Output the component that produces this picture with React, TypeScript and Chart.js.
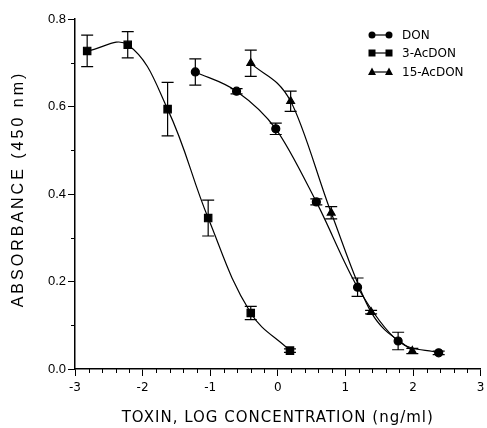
import React, { useEffect, useRef } from 'react';
import { Chart, registerables } from 'chart.js';

Chart.register(...registerables);

// DON (circles)
const donX = [-1.22, -0.61, -0.03, 0.57, 1.18, 1.78, 2.38];
const donY = [0.679, 0.635, 0.549, 0.382, 0.187, 0.064, 0.037];
const donErr = [0.03, 0.006, 0.013, 0.007, 0.021, 0.02, 0.004];

// 3-AcDON (squares)
const ac3X = [-2.82, -2.22, -1.63, -1.03, -0.4, 0.18];
const ac3Y = [0.727, 0.741, 0.594, 0.345, 0.128, 0.042];
const ac3Err = [0.036, 0.03, 0.061, 0.041, 0.015, 0.004];

// 15-AcDON (triangles)
const ac15X = [-0.4, 0.19, 0.79, 1.38, 1.99];
const ac15Y = [0.699, 0.612, 0.357, 0.13, 0.041];
const ac15Err = [0.03, 0.023, 0.014, 0.004, 0.006];

const seriesNames = ['DON', '3-AcDON', '15-AcDON'];
const xTicks = [-3, -2, -1, 0, 1, 2, 3];
const yTicks = [0, 0.2, 0.4, 0.6, 0.8];
const xTitle = 'TOXIN, LOG CONCENTRATION (ng/ml)';
const yTitle = 'ABSORBANCE (450 nm)';

const toPts = (xs: number[], ys: number[]) => xs.map((x, i) => ({ x, y: ys[i] }));

function marker(ctx: CanvasRenderingContext2D, style: string, x: number, y: number) {
  ctx.beginPath();
  if (style === 'circle') {
    ctx.arc(x, y, 3.5, 0, Math.PI * 2);
  } else if (style === 'rect') {
    ctx.rect(x - 3.5, y - 3.5, 7, 7);
  } else {
    ctx.moveTo(x, y - 4.5);
    ctx.lineTo(x + 4, y + 3);
    ctx.lineTo(x - 4, y + 3);
    ctx.closePath();
  }
  ctx.fill();
}

const errorBars = {
  id: 'errorBars',
  afterDatasetsDraw(chart: any) {
    const ctx = chart.ctx;
    const xs = chart.scales.x;
    const ys = chart.scales.y;
    ctx.save();
    ctx.strokeStyle = '#000';
    ctx.lineWidth = 1.2;
    chart.data.datasets.forEach((ds: any) => {
      const errs: number[] = ds.errs || [];
      ds.data.forEach((p: any, i: number) => {
        const e = errs[i];
        if (!e) return;
        const px = xs.getPixelForValue(p.x);
        const top = ys.getPixelForValue(p.y + e);
        const bot = ys.getPixelForValue(p.y - e);
        ctx.beginPath();
        ctx.moveTo(px, top);
        ctx.lineTo(px, bot);
        ctx.moveTo(px - 6, top);
        ctx.lineTo(px + 6, top);
        ctx.moveTo(px - 6, bot);
        ctx.lineTo(px + 6, bot);
        ctx.stroke();
      });
    });
    ctx.restore();
  },
};

const minorTicks = {
  id: 'minorTicks',
  afterDraw(chart: any) {
    const ctx = chart.ctx;
    const xs = chart.scales.x;
    const ys = chart.scales.y;
    const area = chart.chartArea;
    ctx.save();
    ctx.strokeStyle = '#000';
    ctx.lineWidth = 1;
    ctx.beginPath();
    for (let k = -30; k <= 30; k += 2) {
      if (k % 10 === 0) continue;
      const px = Math.round(xs.getPixelForValue(k / 10)) + 0.5;
      ctx.moveTo(px, area.bottom);
      ctx.lineTo(px, area.bottom + 4);
    }
    for (let k = 1; k < 8; k += 2) {
      const py = Math.round(ys.getPixelForValue(k / 10)) + 0.5;
      ctx.moveTo(area.left, py);
      ctx.lineTo(area.left - 4, py);
    }
    ctx.stroke();
    ctx.restore();
  },
};

const axisTitles = {
  id: 'axisTitles',
  afterDraw(chart: any) {
    const ctx = chart.ctx as any;
    const area = chart.chartArea;
    ctx.save();
    ctx.fillStyle = '#000';
    ctx.textAlign = 'center';
    ctx.textBaseline = 'middle';
    ctx.font = '15px "DejaVu Sans"';
    ctx.letterSpacing = '1px';
    ctx.fillText(xTitle, (area.left + area.right) / 2, 418);
    ctx.font = '16px "Liberation Sans"';
    ctx.letterSpacing = '3px';
    ctx.translate(19, 189);
    ctx.rotate(-Math.PI / 2);
    ctx.fillText(yTitle, 0, 0);
    ctx.restore();
  },
};

const customLegend = {
  id: 'customLegend',
  afterDraw(chart: any) {
    const ctx = chart.ctx;
    const styles = ['circle', 'rect', 'triangle'];
    const rows = [35, 53, 72];
    ctx.save();
    ctx.strokeStyle = '#000';
    ctx.fillStyle = '#000';
    ctx.lineWidth = 1.2;
    ctx.font = '12px "DejaVu Sans"';
    ctx.textBaseline = 'middle';
    seriesNames.forEach((name, i) => {
      const y = rows[i];
      ctx.beginPath();
      ctx.moveTo(372, y);
      ctx.lineTo(389, y);
      ctx.stroke();
      marker(ctx, styles[i], 372, y);
      marker(ctx, styles[i], 389, y);
      ctx.fillText(name, 402, y + 1);
    });
    ctx.restore();
  },
};

export default function App() {
  const ref = useRef<HTMLCanvasElement>(null);
  useEffect(() => {
    document.body.style.margin = '0';
    const common = {
      showLine: true,
      borderColor: '#000',
      backgroundColor: '#000',
      borderWidth: 1.2,
      pointBorderColor: '#000',
      pointBackgroundColor: '#000',
    };
    const chart = new Chart(ref.current!, {
      type: 'scatter',
      data: {
        datasets: [
          { ...common, label: seriesNames[0], data: toPts(donX, donY), errs: donErr, pointStyle: 'circle', pointRadius: 4, cubicInterpolationMode: 'monotone' } as any,
          { ...common, label: seriesNames[1], data: toPts(ac3X, ac3Y), errs: ac3Err, pointStyle: 'rect', pointRadius: 5.2, tension: 0.4 } as any,
          { ...common, label: seriesNames[2], data: toPts(ac15X, ac15Y), errs: ac15Err, pointStyle: 'triangle', pointRadius: 4.5, cubicInterpolationMode: 'monotone' } as any,
        ],
      },
      options: {
        animation: false,
        responsive: false,
        devicePixelRatio: 1,
        layout: { padding: { top: 19, right: 4, left: 0, bottom: 0 } },
        plugins: { legend: { display: false }, tooltip: { enabled: false } },
        scales: {
          x: {
            type: 'linear',
            min: -3,
            max: 3,
            afterBuildTicks: (s: any) => { s.ticks = xTicks.map((v) => ({ value: v })); },
            afterFit: (s: any) => { s.height = 59; s.paddingRight = 0; s.paddingLeft = 0; },
            ticks: { color: '#000', font: { family: 'DejaVu Sans', size: 12 }, padding: 5, callback: (v: any) => String(v) },
            grid: { drawOnChartArea: false, color: '#000', tickLength: 7, lineWidth: 1 },
            border: { color: '#000', width: 1.5 },
            title: { display: false },
          },
          y: {
            type: 'linear',
            min: 0,
            max: 0.8,
            afterBuildTicks: (s: any) => { s.ticks = yTicks.map((v) => ({ value: v })); },
            afterFit: (s: any) => { s.width = 75; },
            ticks: { color: '#000', font: { family: 'Liberation Sans', size: 13 }, padding: 2, callback: (v: any) => Number(v).toFixed(1) },
            grid: { drawOnChartArea: false, color: '#000', tickLength: 7, lineWidth: 1 },
            border: { color: '#000', width: 1.5 },
            title: { display: false },
          },
        },
      },
      plugins: [errorBars, minorTicks, axisTitles, customLegend],
    } as any);
    return () => chart.destroy();
  }, []);
  return <canvas ref={ref} width={487} height={428} style={{ display: 'block' }} />;
}
